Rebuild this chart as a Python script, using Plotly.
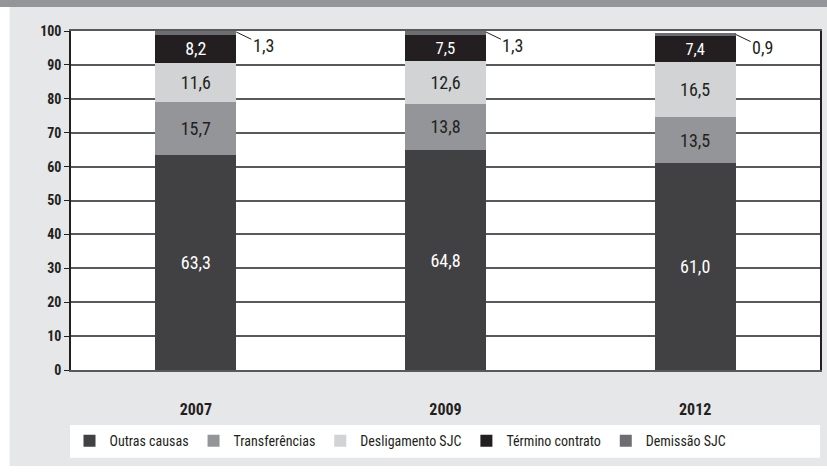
import plotly.graph_objects as go

anos = ['2007', '2009', '2012']
outras_causas = [63.3, 64.8, 61.0]
transferencias = [15.7, 13.8, 13.5]
desligamento_sjc = [11.6, 12.6, 16.5]
termino_contrato = [8.2, 7.5, 7.4]
demissao_sjc = [1.3, 1.3, 0.9]
y_ticks = [0, 10, 20, 30, 40, 50, 60, 70, 80, 90, 100]

FONT = 'Liberation Sans Narrow, Roboto Condensed, Roboto, sans-serif'
BAR_W = 0.324

series = [
    ('Outras causas', outras_causas, '#414042', 'white'),
    ('Transferências', transferencias, '#939598', '#231f20'),
    ('Desligamento SJC', desligamento_sjc, '#d1d3d4', '#231f20'),
    ('Término contrato', termino_contrato, '#231f20', 'white'),
    ('Demissão SJC', demissao_sjc, '#6d6e71', '#231f20'),
]


def fmt(v):
    return f"{v:.1f}".replace('.', ',')


fig = go.Figure()
for nome, vals, cor, cor_txt in series:
    mostrar = nome != 'Demissão SJC'
    fig.add_trace(go.Bar(
        x=anos,
        y=vals,
        name=nome,
        marker_color=cor,
        marker_line_width=0,
        width=BAR_W,
        text=[fmt(v) for v in vals] if mostrar else None,
        textposition='inside' if mostrar else 'none',
        insidetextanchor='middle',
        textangle=0,
        textfont=dict(color=cor_txt, size=18, family=FONT),
    ))

# rótulos externos de Demissão SJC com linha de chamada
for i, ano in enumerate(anos):
    topo = sum(s[1][i] for s in series)
    fig.add_annotation(
        x=i + BAR_W / 2, y=min(topo, 100) - 0.3,
        text=fmt(demissao_sjc[i]),
        showarrow=True, arrowhead=0, arrowwidth=1, arrowcolor='#231f20',
        ax=27, ay=13, standoff=0,
        font=dict(size=18, family=FONT, color='#231f20'),
    )

shapes = [
    # fundo cinza
    dict(type='rect', xref='paper', yref='paper', x0=-0.082, x1=1.01,
         y0=-0.283, y1=1.071, fillcolor='#e6e7e8', line_width=0, layer='below'),
    # faixa do título
    dict(type='rect', xref='paper', yref='paper', x0=-0.1, x1=1.01,
         y0=1.071, y1=1.1, fillcolor='#939598', line_width=0, layer='below'),
    # área do gráfico
    dict(type='rect', xref='paper', yref='paper', x0=0, x1=1,
         y0=0, y1=1, fillcolor='white', line_width=0, layer='below'),
    # caixa da legenda
    dict(type='rect', xref='paper', yref='paper', x0=-0.0013, x1=1.0,
         y0=-0.259, y1=-0.162, fillcolor='white', line_width=0, layer='below'),
]

fig.update_layout(
    barmode='stack',
    width=827, height=473,
    margin=dict(l=71, r=5, t=31, b=103),
    paper_bgcolor='white',
    plot_bgcolor='rgba(0,0,0,0)',
    shapes=shapes,
    font=dict(family=FONT, color='#231f20'),
    showlegend=True,
    legend=dict(
        orientation='h', x=-0.002, y=-0.21, xanchor='left', yanchor='middle',
        bgcolor='rgba(0,0,0,0)', font=dict(size=14, family=FONT),
        traceorder='normal', itemclick=False, itemwidth=30,
    ),
    xaxis=dict(
        type='category', showline=True, linecolor='#58595b', linewidth=2,
        mirror=True, ticks='', ticklabelstandoff=24,
        tickfont=dict(size=16, family=FONT, weight='bold'),
        range=[-0.5, 2.5],
    ),
    yaxis=dict(
        range=[0, 100], tickvals=y_ticks, showgrid=True, gridcolor='#58595b',
        gridwidth=1.5, showline=True, linecolor='#231f20', linewidth=1.5,
        mirror=True, ticks='outside', ticklen=5, tickcolor='#231f20',
        tickfont=dict(size=14, family=FONT, weight='bold'), zeroline=False,
    ),
)

fig.write_html("out.html", config={'displayModeBar': False},
               post_script="document.body.style.margin='0';")
